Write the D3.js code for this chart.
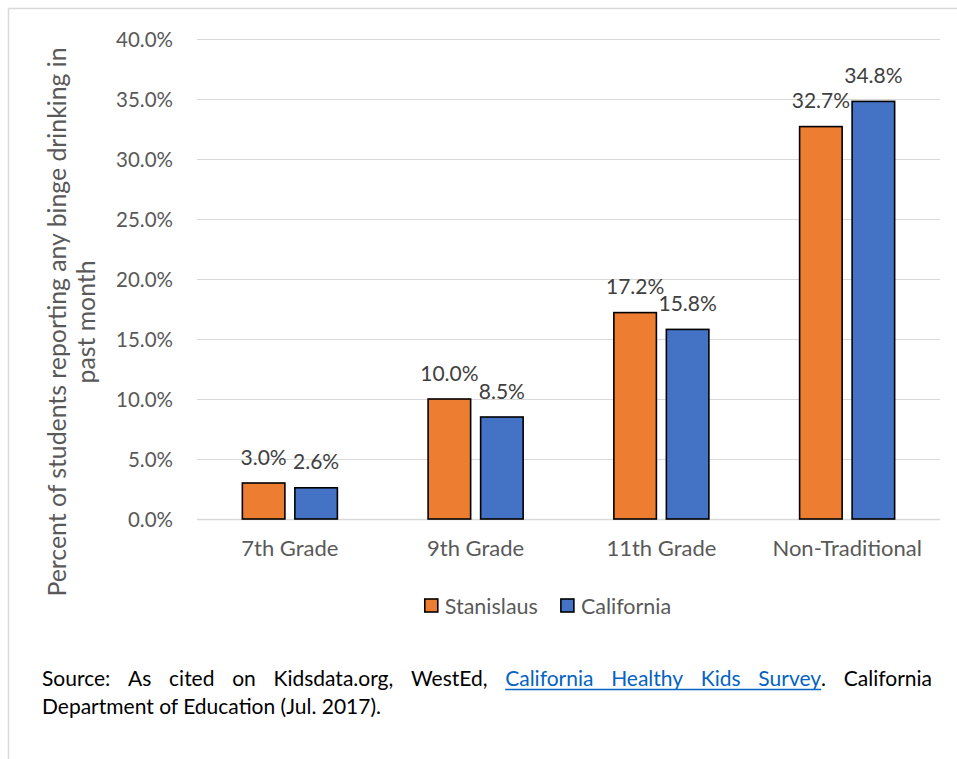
<!DOCTYPE html>
<html>
<head>
<meta charset="utf-8">
<script src="https://cdn.jsdelivr.net/npm/d3@7"></script>
<style>
  html, body { margin: 0; padding: 0; background: #fff; }
  svg { display: block; }
</style>
</head>
<body>
<svg id="chart" width="957" height="759"></svg>
<script>
const categories = ["7th Grade", "9th Grade", "11th Grade", "Non-Traditional"];
const seriesNames = ["Stanislaus", "California"];
const stanislaus = [0.030, 0.100, 0.172, 0.327];
const california = [0.026, 0.085, 0.158, 0.348];
const yTicks = [0, 0.05, 0.10, 0.15, 0.20, 0.25, 0.30, 0.35, 0.40];
const colors = ["#ED7D31", "#4472C4"];
const yTitle = ["Percent of students reporting any binge drinking in", "past month"];
const sourceLine1 = [
  {t: "Source:"}, {t: "As"}, {t: "cited"}, {t: "on"}, {t: "Kidsdata.org,"}, {t: "WestEd,"},
  {t: "California", link: true}, {t: "Healthy", link: true}, {t: "Kids", link: true}, {t: "Survey", link: true, tail: "."},
  {t: "California"}
];
const sourceLine2 = "Department of Education (Jul. 2017).";

const FONT = "Lato, 'Open Sans', sans-serif";
const svg = d3.select("#chart");

// outer frame (left and top borders)
svg.append("line").attr("x1", 8.5).attr("y1", 8.5).attr("x2", 957).attr("y2", 8.5)
  .attr("stroke", "#d9d9d9").attr("stroke-width", 1.5);
svg.append("line").attr("x1", 8.5).attr("y1", 8.5).attr("x2", 8.5).attr("y2", 759)
  .attr("stroke", "#d9d9d9").attr("stroke-width", 1.5);

const plot = {left: 197, right: 940, top: 39, bottom: 519};
const y = d3.scaleLinear().domain([0, 0.4]).range([plot.bottom, plot.top]);
const x0 = d3.scaleBand().domain(categories).range([plot.left, plot.right]).paddingInner(0).paddingOuter(0);
const x1 = d3.scaleBand().domain(seriesNames).range([0, x0.bandwidth()]).paddingInner(0.19).paddingOuter(0.864);

// gridlines
svg.append("g").selectAll("line").data(yTicks).join("line")
  .attr("x1", plot.left).attr("x2", plot.right)
  .attr("y1", d => Math.round(y(d)) + 0.5).attr("y2", d => Math.round(y(d)) + 0.5)
  .attr("stroke", "#d9d9d9").attr("stroke-width", d => d === 0 ? 1.5 : 1);

// y axis labels
const yAxis = d3.axisLeft(y).tickValues(yTicks).tickFormat(d3.format(".1%")).tickSize(0).tickPadding(0);
const gy = svg.append("g").attr("transform", `translate(173,0)`).call(yAxis);
gy.select(".domain").remove();
gy.selectAll("text").attr("font-family", FONT).attr("font-size", 20.5).attr("fill", "#595959").attr("dy", "0.35em");

// x axis labels
const xAxis = d3.axisBottom(x0).tickSize(0).tickPadding(0);
const gx = svg.append("g").attr("transform", `translate(0,${plot.bottom})`).call(xAxis);
gx.select(".domain").remove();
gx.selectAll("text").attr("font-family", FONT).attr("font-size", 22).attr("fill", "#595959").attr("dy", null).attr("y", 37);

// bars
const rows = categories.map((c, i) => ({cat: c, vals: [stanislaus[i], california[i]]}));
const groups = svg.append("g").selectAll("g").data(rows).join("g")
  .attr("transform", d => `translate(${x0(d.cat)},0)`);
groups.selectAll("rect").data(d => d.vals.map((v, j) => ({name: seriesNames[j], v, j}))).join("rect")
  .attr("x", d => x1(d.name)).attr("width", x1.bandwidth())
  .attr("y", d => y(d.v)).attr("height", d => y(0) - y(d.v))
  .attr("fill", d => colors[d.j]).attr("stroke", "#000").attr("stroke-width", 1.6);
groups.selectAll("text").data(d => d.vals.map((v, j) => ({name: seriesNames[j], v, j}))).join("text")
  .attr("x", d => x1(d.name) + x1.bandwidth() / 2).attr("y", d => y(d.v) - 18.5)
  .attr("text-anchor", "middle").attr("font-family", FONT).attr("font-size", 21).attr("fill", "#404040")
  .text(d => d3.format(".1%")(d.v));

// y title
const yt = svg.append("text")
  .attr("font-family", FONT).attr("font-size", 24.8).attr("fill", "#595959").attr("text-anchor", "middle");
yt.append("tspan").attr("x", -322).attr("y", 66).text(yTitle[0]);
yt.append("tspan").attr("x", -322).attr("y", 95).text(yTitle[1]);
yt.attr("transform", "rotate(-90)");

// legend
const lg = svg.append("g");
const lgY = 606;
let lx = 0;
seriesNames.forEach((n, j) => {
  const g = lg.append("g");
  g.append("rect").attr("x", 0).attr("y", lgY - 7).attr("width", 13).attr("height", 13)
    .attr("fill", colors[j]).attr("stroke", "#000").attr("stroke-width", 1.6);
  const t = g.append("text").attr("x", 20).attr("y", lgY).attr("dy", "0.35em")
    .attr("font-family", FONT).attr("font-size", 21.5).attr("fill", "#595959").text(n);
  const w = 20 + t.node().getComputedTextLength();
  g.attr("transform", `translate(${lx},0)`);
  lx += w + 23;
});
const totalW = lx - 23;
lg.attr("transform", `translate(${548 - totalW / 2},0)`);

// source note, line 1 justified
const srcLeft = 42, srcRight = 932, srcFont = 21;
const s1 = svg.append("g");
const words = sourceLine1.map(w => {
  const t = s1.append("text").attr("y", 686).attr("font-family", FONT).attr("font-size", srcFont)
    .attr("fill", w.link ? "#0563C1" : "#000").text(w.t);
  let tail = null;
  if (w.tail) {
    tail = s1.append("text").attr("y", 686).attr("font-family", FONT).attr("font-size", srcFont).attr("fill", "#000").text(w.tail);
  }
  const wt = t.node().getComputedTextLength();
  const wtail = tail ? tail.node().getComputedTextLength() : 0;
  return {w, t, tail, wt, wtail, total: wt + wtail};
});
const sumW = d3.sum(words, d => d.total);
const gap = (srcRight - srcLeft - sumW) / (words.length - 1);
let cx = srcLeft, linkStart = null, linkEnd = null;
words.forEach(d => {
  d.t.attr("x", cx);
  if (d.w.link) { if (linkStart === null) linkStart = cx; linkEnd = cx + d.wt; }
  if (d.tail) d.tail.attr("x", cx + d.wt);
  cx += d.total + gap;
});
s1.append("line").attr("x1", linkStart).attr("x2", linkEnd).attr("y1", 689.5).attr("y2", 689.5)
  .attr("stroke", "#0563C1").attr("stroke-width", 1.3);
svg.append("text").attr("x", srcLeft).attr("y", 714).attr("font-family", FONT).attr("font-size", srcFont)
  .attr("fill", "#000").text(sourceLine2);
</script>
</body>
</html>
